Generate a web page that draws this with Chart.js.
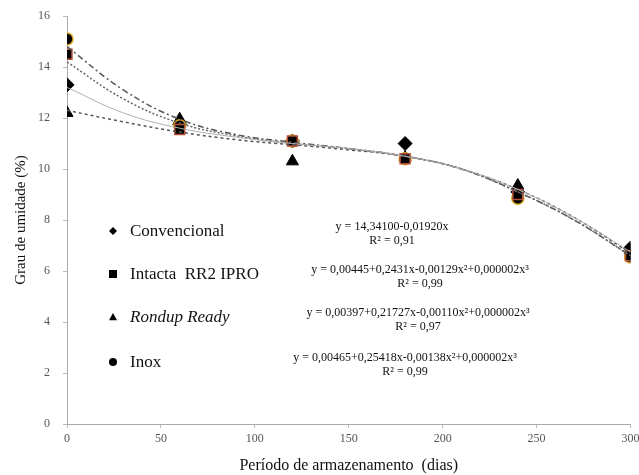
<!DOCTYPE html>
<html>
<head>
<meta charset="utf-8">
<script src="https://cdn.jsdelivr.net/npm/chart.js@4"></script>
<style>
  html, body { margin: 0; padding: 0; background: #fff; }
  #wrap { width: 639px; height: 475px; }
</style>
</head>
<body>
<div id="wrap"><canvas id="g-umidade" width="639" height="475"></canvas></div>
<script>
// observed values
var dias = [0, 60, 120, 180, 240, 300];
var convencional = [13.3, 11.75, 11.1, 11.0, 9.1, 6.9];
var intacta = [14.5, 11.55, 11.1, 10.4, 9.0, 6.6];
var rondup = [12.2, 11.95, 10.3, 10.45, 9.35, 6.8];
var inox = [15.1, 11.7, 11.1, 10.4, 8.85, 6.55];

// fitted curves
var diasCurva = [0, 30, 60, 90, 120, 150, 180, 210, 240, 270, 300];
var curvaConvencional = [13.2, 12.2, 11.6, 11.25, 11.0, 10.8, 10.5, 10.0, 9.2, 8.1, 6.75];
var curvaIntacta = [14.2, 12.75, 11.8, 11.3, 11.0, 10.8, 10.5, 10.0, 9.1, 8.0, 6.6];
var curvaRondup = [12.3, 11.85, 11.45, 11.15, 10.95, 10.75, 10.5, 10.0, 9.2, 8.1, 6.7];
var curvaInox = [14.8, 13.1, 11.95, 11.35, 11.05, 10.8, 10.5, 10.0, 9.1, 8.0, 6.6];

var nomes = ['Convencional', 'Intacta  RR2 IPRO', 'Rondup Ready', 'Inox'];
var equacoes = [
  'y = 14,34100-0,01920x',
  'y = 0,00445+0,2431x-0,00129x\u00b2+0,000002x\u00b3',
  'y = 0,00397+0,21727x-0,00110x\u00b2+0,000002x\u00b3',
  'y = 0,00465+0,25418x-0,00138x\u00b2+0,000002x\u00b3'
];
var r2 = ['R\u00b2 = 0,91', 'R\u00b2 = 0,99', 'R\u00b2 = 0,97', 'R\u00b2 = 0,99'];

var yTicks = [0, 2, 4, 6, 8, 10, 12, 14, 16];
var xTicks = [0, 50, 100, 150, 200, 250, 300];

var serif = "'Liberation Serif', 'DejaVu Serif', serif";

function pontos(xs, ys) {
  return xs.map(function (x, i) { return { x: x, y: ys[i] }; });
}

function marcador(ctx, estilo, x, y, r) {
  ctx.save();
  ctx.fillStyle = '#000';
  ctx.beginPath();
  if (estilo === 'rectRot') {
    ctx.moveTo(x, y - r); ctx.lineTo(x + r, y); ctx.lineTo(x, y + r); ctx.lineTo(x - r, y);
  } else if (estilo === 'rect') {
    ctx.rect(x - r, y - r, 2 * r, 2 * r);
  } else if (estilo === 'triangle') {
    ctx.moveTo(x, y - r); ctx.lineTo(x + r, y + r * 0.8); ctx.lineTo(x - r, y + r * 0.8);
  } else {
    ctx.arc(x, y, r, 0, Math.PI * 2);
  }
  ctx.closePath();
  ctx.fill();
  ctx.restore();
}

var legendaInterna = {
  id: 'legendaInterna',
  afterDraw: function (chart) {
    var ctx = chart.ctx;
    var estilos = ['rectRot', 'rect', 'triangle', 'circle'];
    var linhas = [231, 274, 317, 362];
    var centrosEq = [392, 420, 418, 405];
    ctx.save();
    ctx.textBaseline = 'middle';
    for (var i = 0; i < nomes.length; i++) {
      marcador(ctx, estilos[i], 113, linhas[i], 4);
      ctx.fillStyle = '#111';
      ctx.textAlign = 'left';
      ctx.font = (i === 2 ? 'italic ' : '') + '17px ' + serif;
      ctx.fillText(nomes[i], 130, linhas[i] + 1);
      ctx.textAlign = 'center';
      ctx.font = '12px ' + serif;
      ctx.fillText(equacoes[i], centrosEq[i], linhas[i] - 4);
      ctx.fillText(r2[i], centrosEq[i], linhas[i] + 10);
    }
    ctx.restore();
  }
};

var ctxUmidade = document.getElementById('g-umidade');

var gUmidade = new Chart(ctxUmidade, {
  type: 'scatter',
  data: {
    datasets: [
      { label: 'curva Convencional', type: 'line', data: pontos(diasCurva, curvaConvencional),
        borderColor: '#b0b0b0', borderWidth: 1, pointRadius: 0, tension: 0.4, fill: false },
      { label: 'curva Intacta', type: 'line', data: pontos(diasCurva, curvaIntacta),
        borderColor: '#666', borderWidth: 1.5, borderDash: [2, 2], pointRadius: 0, tension: 0.4, fill: false },
      { label: 'curva Rondup', type: 'line', data: pontos(diasCurva, curvaRondup),
        borderColor: '#555', borderWidth: 1.5, borderDash: [3, 3], pointRadius: 0, tension: 0.4, fill: false },
      { label: 'curva Inox', type: 'line', data: pontos(diasCurva, curvaInox),
        borderColor: '#555', borderWidth: 1.5, borderDash: [6, 3, 2, 3], pointRadius: 0, tension: 0.4, fill: false },
      { label: nomes[1], data: pontos(dias, intacta), pointStyle: 'rect', pointRadius: 7,
        backgroundColor: '#000', borderColor: '#b5503c', borderWidth: 1.5 },
      { label: nomes[3], data: pontos(dias, inox), pointStyle: 'circle', pointRadius: 6,
        backgroundColor: '#000', borderColor: '#d9a520', borderWidth: 1.5 },
      { label: nomes[0], data: pontos(dias, convencional), pointStyle: 'rectRot', pointRadius: 7,
        backgroundColor: '#000', borderColor: '#000', borderWidth: 1 },
      { label: nomes[2], data: pontos(dias, rondup), pointStyle: 'triangle', pointRadius: 7,
        backgroundColor: '#000', borderColor: '#000', borderWidth: 1 }
    ]
  },
  options: {
    responsive: false,
    animation: false,
    layout: { padding: { left: 12, top: 16, right: 8, bottom: 0 } },
    plugins: {
      legend: { display: false },
      tooltip: { enabled: false }
    },
    scales: {
      x: {
        type: 'linear',
        min: 0, max: 300,
        afterBuildTicks: function (scale) { scale.ticks = xTicks.map(function (v) { return { value: v }; }); },
        afterFit: function (scale) { scale.height = 51; scale.paddingLeft = 0; scale.paddingRight = 0; },
        grid: { drawOnChartArea: false, color: '#bbb', tickLength: 4 },
        border: { color: '#aaa' },
        ticks: { color: '#555', font: { family: serif, size: 12 }, padding: 4 },
        title: { display: true, text: 'Período de armazenamento  (dias)', color: '#111',
          font: { family: serif, size: 16 }, padding: { top: 2, bottom: 0 } }
      },
      y: {
        min: 0, max: 16,
        afterBuildTicks: function (scale) { scale.ticks = yTicks.map(function (v) { return { value: v }; }); },
        afterFit: function (scale) { scale.width = 55; scale.paddingTop = 0; scale.paddingBottom = 0; },
        grid: { drawOnChartArea: false, color: '#bbb', tickLength: 4 },
        border: { color: '#aaa' },
        ticks: { color: '#555', font: { family: serif, size: 12 }, padding: 13 },
        title: { display: true, text: 'Grau de umidade (%)', color: '#111',
          font: { family: serif, size: 15 }, padding: { top: 0, bottom: 6 } }
      }
    }
  },
  plugins: [legendaInterna]
});
</script>
</body>
</html>
